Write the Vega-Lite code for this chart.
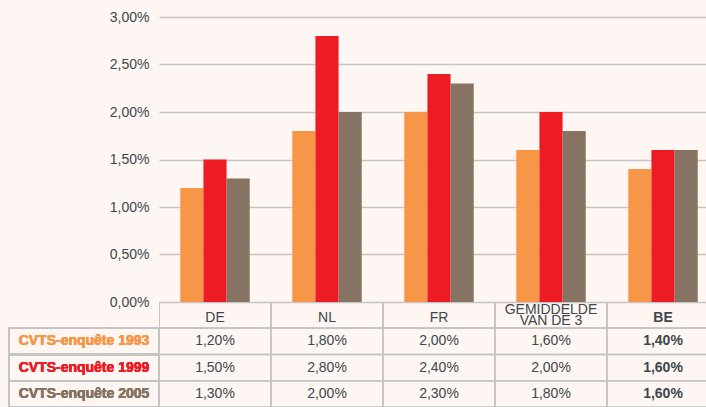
{
  "$schema": "https://vega.github.io/schema/vega-lite/v6.json",
  "background": "#fdf6f2",
  "padding": {"left": 8, "top": 10, "right": 0, "bottom": 1},
  "autosize": {"type": "pad"},
  "config": {
    "locale": {"number": {"decimal": ",", "thousands": ".", "grouping": [3], "currency": ["€", ""]}},
    "view": {"stroke": null},
    "font": "Liberation Sans",
    "axis": {"labelFont": "Liberation Sans", "labelColor": "#3f474c", "labelFontSize": 14}
  },
  "datasets": {
    "d": [
      {"cat": "DE", "series": "CVTS-enquête 1993", "value": 0.012},
      {"cat": "DE", "series": "CVTS-enquête 1999", "value": 0.015},
      {"cat": "DE", "series": "CVTS-enquête 2005", "value": 0.013},
      {"cat": "NL", "series": "CVTS-enquête 1993", "value": 0.018},
      {"cat": "NL", "series": "CVTS-enquête 1999", "value": 0.028},
      {"cat": "NL", "series": "CVTS-enquête 2005", "value": 0.020},
      {"cat": "FR", "series": "CVTS-enquête 1993", "value": 0.020},
      {"cat": "FR", "series": "CVTS-enquête 1999", "value": 0.024},
      {"cat": "FR", "series": "CVTS-enquête 2005", "value": 0.023},
      {"cat": "GEMIDDELDE VAN DE 3", "series": "CVTS-enquête 1993", "value": 0.016},
      {"cat": "GEMIDDELDE VAN DE 3", "series": "CVTS-enquête 1999", "value": 0.020},
      {"cat": "GEMIDDELDE VAN DE 3", "series": "CVTS-enquête 2005", "value": 0.018},
      {"cat": "BE", "series": "CVTS-enquête 1993", "value": 0.014},
      {"cat": "BE", "series": "CVTS-enquête 1999", "value": 0.016},
      {"cat": "BE", "series": "CVTS-enquête 2005", "value": 0.016}
    ]
  },
  "data": {"name": "d"},
  "columns": 2,
  "spacing": {"row": 0, "column": 0},
  "bounds": "flush",
  "align": "each",
  "resolve": {"scale": {"x": "independent", "y": "independent", "color": "independent"}},
  "concat": [
    {
      "width": 150,
      "height": 285,
      "data": {"values": []},
      "mark": {"type": "text"},
      "encoding": {"text": {"value": ""}}
    },
    {
      "width": 548,
      "height": 285,
      "mark": {"type": "bar", "clip": true},
      "encoding": {
        "x": {
          "field": "cat", "type": "nominal",
          "sort": ["DE", "NL", "FR", "GEMIDDELDE VAN DE 3", "BE"],
          "scale": {"range": [0, 560], "paddingInner": 0.38, "paddingOuter": 0.19},
          "axis": {
            "title": null, "labelAngle": 0, "grid": false, "domain": false, "ticks": false,
            "labelLineHeight": 11.5, "labelLimit": 0,
            "labelBaseline": {"condition": {"test": "datum.value == 'GEMIDDELDE VAN DE 3'", "value": "top"}, "value": "middle"},
            "labelPadding": {"condition": {"test": "datum.value == 'GEMIDDELDE VAN DE 3'", "value": 0}, "value": 15},
            "labelExpr": "datum.value == 'GEMIDDELDE VAN DE 3' ? ['GEMIDDELDE', 'VAN DE 3'] : datum.value",
            "labelFontWeight": {"condition": {"test": "datum.value == 'BE'", "value": "bold"}, "value": "normal"}
          }
        },
        "xOffset": {
          "field": "series", "type": "nominal",
          "sort": ["CVTS-enquête 1993", "CVTS-enquête 1999", "CVTS-enquête 2005"],
          "scale": {"paddingInner": 0, "paddingOuter": 0}
        },
        "y": {
          "field": "value", "type": "quantitative",
          "scale": {"domain": [0, 0.03], "nice": false},
          "axis": {
            "title": null, "values": [0, 0.005, 0.01, 0.015, 0.02, 0.025, 0.03],
            "format": ".2%", "grid": true, "gridColor": "#c4c4c4", "gridWidth": 1.5,
            "domain": false, "ticks": false, "labelPadding": 10
          }
        },
        "color": {
          "field": "series", "type": "nominal",
          "scale": {"domain": ["CVTS-enquête 1993", "CVTS-enquête 1999", "CVTS-enquête 2005"], "range": ["#f79646", "#ed1c24", "#877362"]},
          "legend": null
        }
      }
    },
    {
      "width": 150,
      "height": 105,
      "encoding": {
        "y": {
          "field": "series", "type": "nominal",
          "scale": {"domain": ["header", "CVTS-enquête 1993", "CVTS-enquête 1999", "CVTS-enquête 2005"], "paddingInner": 0, "paddingOuter": 0},
          "axis": null
        }
      },
      "layer": [
        {
          "mark": {"type": "rect", "fill": "transparent", "stroke": "#c4c4c4", "strokeWidth": 1.5},
          "encoding": {"x": {"value": 0}, "x2": {"value": "width"}}
        },
        {
          "mark": {"type": "text", "fontWeight": "bold", "fontSize": 14, "font": "Liberation Sans"},
          "encoding": {
            "text": {"field": "series", "type": "nominal"},
            "color": {
              "field": "series", "type": "nominal",
              "scale": {"domain": ["CVTS-enquête 1993", "CVTS-enquête 1999", "CVTS-enquête 2005"], "range": ["#f79646", "#ed1c24", "#877362"]},
              "legend": null
            }
          }
        }
      ]
    },
    {
      "width": 548,
      "height": 105,
      "encoding": {
        "x": {
          "field": "cat", "type": "nominal",
          "sort": ["DE", "NL", "FR", "GEMIDDELDE VAN DE 3", "BE"],
          "scale": {"range": [0, 560], "paddingInner": 0, "paddingOuter": 0},
          "axis": null
        },
        "y": {
          "field": "series", "type": "nominal",
          "scale": {"domain": ["header", "CVTS-enquête 1993", "CVTS-enquête 1999", "CVTS-enquête 2005"], "paddingInner": 0, "paddingOuter": 0},
          "axis": null
        }
      },
      "layer": [
        {
          "mark": {"type": "rect", "fill": "transparent", "stroke": "#c4c4c4", "strokeWidth": 1.5, "clip": true}
        },
        {
          "mark": {"type": "rect", "fill": "transparent", "stroke": "#c4c4c4", "strokeWidth": 1.5, "clip": true},
          "encoding": {"y": {"datum": "header"}}
        },
        {
          "transform": [{"filter": "datum.cat != 'BE'"}],
          "mark": {"type": "text", "fontSize": 14, "color": "#3f474c", "font": "Liberation Sans"},
          "encoding": {"text": {"field": "value", "type": "quantitative", "format": ".2%"}}
        },
        {
          "transform": [{"filter": "datum.cat == 'BE'"}],
          "mark": {"type": "text", "fontSize": 14, "fontWeight": "bold", "color": "#3f474c", "font": "Liberation Sans", "clip": true},
          "encoding": {"text": {"field": "value", "type": "quantitative", "format": ".2%"}}
        }
      ]
    }
  ]
}
